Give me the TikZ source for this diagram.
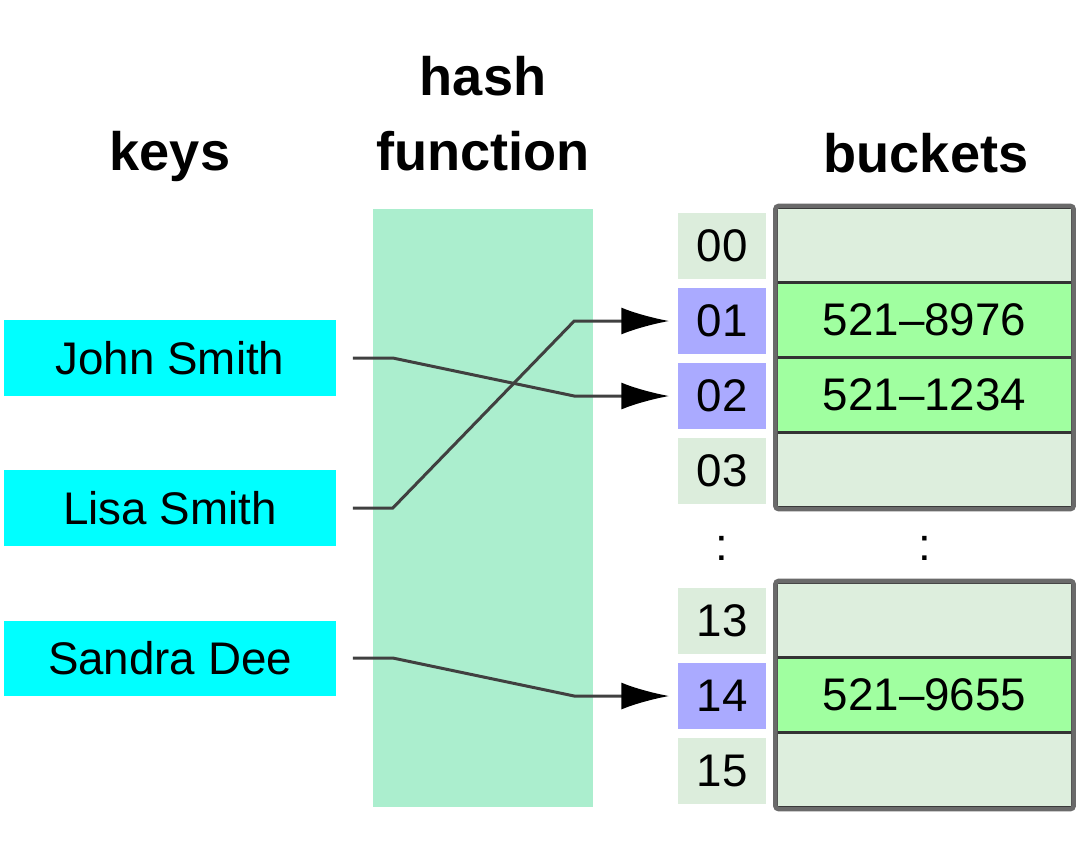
\documentclass[tikz,border=0pt]{standalone}
\usepackage{fontspec}
\setmainfont{Liberation Sans}
\usetikzlibrary{arrows.meta}
\definecolor{keycyan}{HTML}{00FFFF}
\definecolor{hashgreen}{HTML}{ABEECE}
\definecolor{slotgrey}{HTML}{DCEDDC}
\definecolor{slotblue}{HTML}{AAAAFF}
\definecolor{bucketfull}{HTML}{A0FFA0}
\definecolor{bucketempty}{HTML}{DDEEDD}
\definecolor{rimgrey}{HTML}{6A6A6A}

\begin{document}
\begin{tikzpicture}[x=0.01cm,y=-0.01cm,
  title/.style={font=\fontsize{15.4}{18}\selectfont\bfseries,anchor=base},
  keybox/.style={fill=keycyan,minimum width=3.32cm,minimum height=0.75cm,inner sep=0pt,font=\fontsize{13}{15}\selectfont},
  slot/.style={fill=slotgrey,minimum width=0.88cm,minimum height=0.66cm,inner sep=0pt,font=\fontsize{13}{15}\selectfont},
  hit/.style={slot,fill=slotblue},
  cell/.style={fill=bucketempty,draw=black!80,line width=0.03cm,minimum width=2.95cm,minimum height=0.75cm,inner sep=0pt,font=\fontsize{13}{15}\selectfont},
  full/.style={cell,fill=bucketfull},
  link/.style={draw=black!75,line width=0.03cm,-{Latex[length=0.48cm,width=0.27cm,black]}}]
\useasboundingbox (0,0) rectangle (1080,863);
% hash function band
\fill[hashgreen] (373,209) rectangle (593,807);
% titles
\node[title] (tkeys) at (170,170) {keys};
\node[title] (thash) at (483,95) {hash};
\node[title] (tfunc) at (483,170) {function};
\node[title] (tbuck) at (926,172) {buckets};
% keys
\node[keybox] (john) at (170,358) {John Smith};
\node[keybox] (lisa) at (170,508) {Lisa Smith};
\node[keybox] (sandra) at (170,658) {Sandra Dee};
% slot numbers
\foreach \n/\k/\s in {00/0/slot,01/1/hit,02/2/hit,03/3/slot,13/5/slot,14/6/hit,15/7/slot}
  \node[\s] (i\n) at (722,246+75*\k) {\n};
% buckets
\foreach \n/\k in {00/0,03/3,13/5,15/7}
  \node[cell] (b\n) at (924.5,245+75*\k) {};
\foreach \n/\k/\v in {01/1/8976,02/2/1234,14/6/9655}
  \node[full] (b\n) at (924.5,245+75*\k) {521\textendash\v};
\draw[rimgrey,line width=0.045cm,rounded corners=0.03cm] (b00.north west) rectangle (b03.south east);
\draw[rimgrey,line width=0.045cm,rounded corners=0.03cm] (b13.north west) rectangle (b15.south east);
\node[font=\fontsize{13}{15}\selectfont] (gapi) at (722,548) {:};
\node[font=\fontsize{13}{15}\selectfont] (gapb) at (925,548) {:};
% links
\draw[link] ([xshift=0.16cm]john.east) -- ++(40,0) -- ([xshift=-1.03cm]i02.west) -- ([xshift=-0.08cm]i02.west);
\draw[link] ([xshift=0.16cm]lisa.east) -- ++(40,0) -- ([xshift=-1.03cm]i01.west) -- ([xshift=-0.08cm]i01.west);
\draw[link] ([xshift=0.16cm]sandra.east) -- ++(40,0) -- ([xshift=-1.03cm]i14.west) -- ([xshift=-0.08cm]i14.west);
\end{tikzpicture}
\end{document}
